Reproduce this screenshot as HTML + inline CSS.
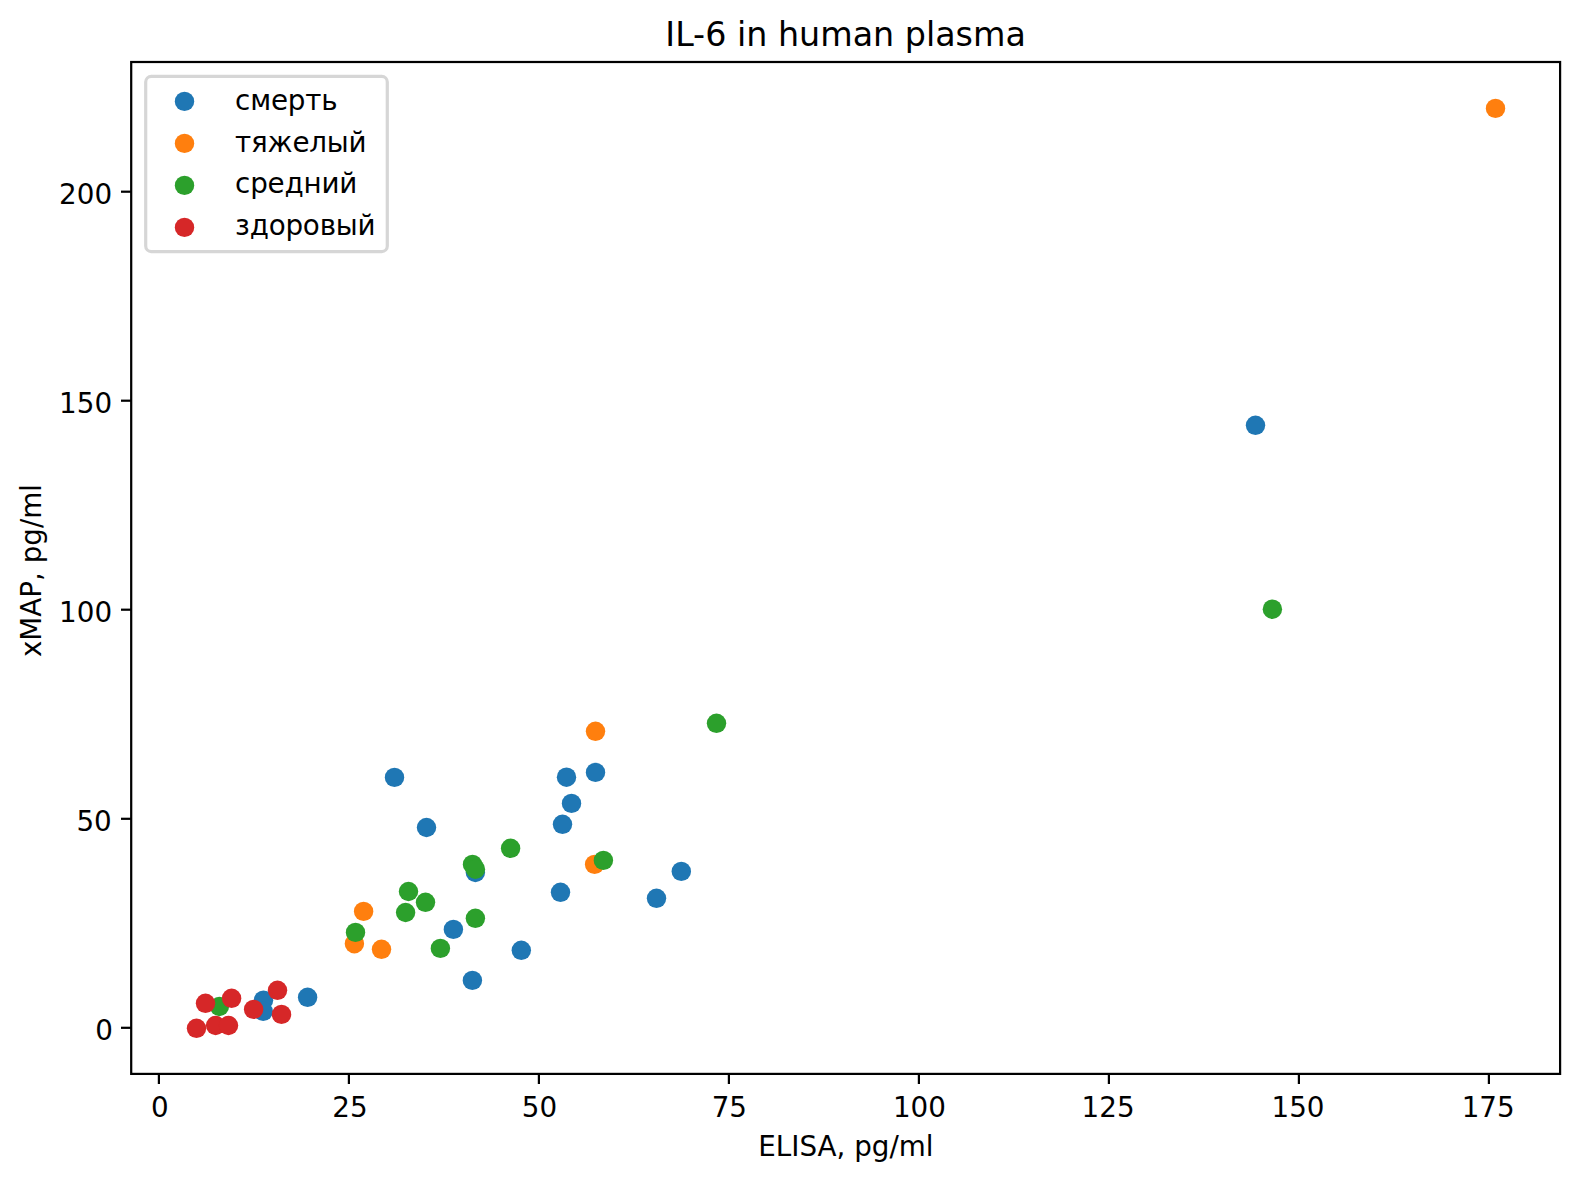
<!DOCTYPE html>
<html lang="ru"><head><meta charset="utf-8"><title>IL-6 in human plasma</title>
<style>html,body{margin:0;padding:0;background:#fff;}svg{display:block;}text{font-family:"DejaVu Sans","Liberation Sans",sans-serif;fill:#000;}</style></head><body>
<svg width="1579" height="1181" viewBox="0 0 1579 1181">
<rect x="0" y="0" width="1579" height="1181" fill="#ffffff"/>
<g fill="#1f77b4">
<circle cx="263.5" cy="1000.2" r="9.72"/>
<circle cx="263.2" cy="1011.3" r="9.72"/>
<circle cx="307.6" cy="997.3" r="9.72"/>
<circle cx="394.5" cy="777.4" r="9.72"/>
<circle cx="426.5" cy="827.5" r="9.72"/>
<circle cx="475.4" cy="872.5" r="9.72"/>
<circle cx="453.4" cy="929.4" r="9.72"/>
<circle cx="472.4" cy="980.4" r="9.72"/>
<circle cx="521.3" cy="950.3" r="9.72"/>
<circle cx="566.5" cy="777.2" r="9.72"/>
<circle cx="595.5" cy="772.4" r="9.72"/>
<circle cx="571.5" cy="803.4" r="9.72"/>
<circle cx="562.5" cy="824.3" r="9.72"/>
<circle cx="560.5" cy="892.3" r="9.72"/>
<circle cx="681.3" cy="871.4" r="9.72"/>
<circle cx="656.5" cy="898.3" r="9.72"/>
<circle cx="1255.5" cy="425.3" r="9.72"/>
</g>
<g fill="#ff7f0e">
<circle cx="363.6" cy="911.4" r="9.72"/>
<circle cx="354.4" cy="943.7" r="9.72"/>
<circle cx="381.5" cy="949.3" r="9.72"/>
<circle cx="595.5" cy="731.3" r="9.72"/>
<circle cx="594.6" cy="864.4" r="9.72"/>
<circle cx="1495.5" cy="108.4" r="9.72"/>
</g>
<g fill="#2ca02c">
<circle cx="219.4" cy="1006.5" r="9.72"/>
<circle cx="355.5" cy="932.4" r="9.72"/>
<circle cx="408.5" cy="891.5" r="9.72"/>
<circle cx="425.5" cy="902.3" r="9.72"/>
<circle cx="405.6" cy="912.5" r="9.72"/>
<circle cx="472.5" cy="864.4" r="9.72"/>
<circle cx="475.4" cy="869.2" r="9.72"/>
<circle cx="475.4" cy="918.3" r="9.72"/>
<circle cx="440.4" cy="948.4" r="9.72"/>
<circle cx="510.6" cy="848.3" r="9.72"/>
<circle cx="603.4" cy="860.4" r="9.72"/>
<circle cx="716.5" cy="723.3" r="9.72"/>
<circle cx="1272.4" cy="609.2" r="9.72"/>
</g>
<g fill="#d62728">
<circle cx="196.5" cy="1028.3" r="9.72"/>
<circle cx="215.6" cy="1025.5" r="9.72"/>
<circle cx="228.5" cy="1025.5" r="9.72"/>
<circle cx="205.5" cy="1003.3" r="9.72"/>
<circle cx="231.6" cy="998.3" r="9.72"/>
<circle cx="253.6" cy="1009.4" r="9.72"/>
<circle cx="277.5" cy="990.3" r="9.72"/>
<circle cx="281.5" cy="1014.4" r="9.72"/>
</g>
<g stroke="#000" stroke-width="2.22" fill="none">
<line x1="158.9" y1="1073.9" x2="158.9" y2="1084.0"/>
<line x1="348.9" y1="1073.9" x2="348.9" y2="1084.0"/>
<line x1="538.9" y1="1073.9" x2="538.9" y2="1084.0"/>
<line x1="728.9" y1="1073.9" x2="728.9" y2="1084.0"/>
<line x1="918.9" y1="1073.9" x2="918.9" y2="1084.0"/>
<line x1="1108.9" y1="1073.9" x2="1108.9" y2="1084.0"/>
<line x1="1298.9" y1="1073.9" x2="1298.9" y2="1084.0"/>
<line x1="1488.9" y1="1073.9" x2="1488.9" y2="1084.0"/>
<line x1="121.0" y1="1027.8" x2="131.2" y2="1027.8"/>
<line x1="121.0" y1="818.8" x2="131.2" y2="818.8"/>
<line x1="121.0" y1="609.7" x2="131.2" y2="609.7"/>
<line x1="121.0" y1="400.7" x2="131.2" y2="400.7"/>
<line x1="121.0" y1="191.7" x2="131.2" y2="191.7"/>
<rect x="131.2" y="62.0" width="1428.9" height="1011.9" stroke-linejoin="miter"/>
</g>
<g font-size="27.78">
<text x="159.9" y="1116.9" text-anchor="middle">0</text>
<text x="349.9" y="1116.9" text-anchor="middle">25</text>
<text x="539.4" y="1116.9" text-anchor="middle">50</text>
<text x="729.3" y="1116.9" text-anchor="middle">75</text>
<text x="919.4" y="1116.9" text-anchor="middle">100</text>
<text x="1108.1" y="1116.9" text-anchor="middle">125</text>
<text x="1298.0" y="1116.9" text-anchor="middle">150</text>
<text x="1488.2" y="1116.9" text-anchor="middle">175</text>
<text x="112.8" y="1039.7" text-anchor="end">0</text>
<text x="111.8" y="830.8" text-anchor="end">50</text>
<text x="112.1" y="621.9" text-anchor="end">100</text>
<text x="112.1" y="412.6" text-anchor="end">150</text>
<text x="112.1" y="203.8" text-anchor="end">200</text>
<text x="845.9" y="1155.6" text-anchor="middle">ELISA, pg/ml</text>
<text transform="translate(41.0 570.5) rotate(-90)" text-anchor="middle">xMAP, pg/ml</text>
</g>
<text x="845.6" y="45.6" font-size="33.33" text-anchor="middle">IL-6 in human plasma</text>
<rect x="145.7" y="76.4" width="241.6" height="175.2" rx="5.56" ry="5.56" fill="#ffffff" fill-opacity="0.8" stroke="#cccccc" stroke-opacity="0.8" stroke-width="3.2"/>
<circle cx="184.5" cy="101.4" r="9.72" fill="#1f77b4"/>
<text x="235.1" y="109.6" font-size="27.78" letter-spacing="-0.2">смерть</text>
<circle cx="184.5" cy="143.4" r="9.72" fill="#ff7f0e"/>
<text x="235.1" y="152.0" font-size="27.78" letter-spacing="-0.2">тяжелый</text>
<circle cx="184.5" cy="185.4" r="9.72" fill="#2ca02c"/>
<text x="235.1" y="192.9" font-size="27.78" letter-spacing="-0.2">средний</text>
<circle cx="184.5" cy="227.4" r="9.72" fill="#d62728"/>
<text x="235.1" y="234.5" font-size="27.78" letter-spacing="-0.2">здоровый</text>
</svg></body></html>
